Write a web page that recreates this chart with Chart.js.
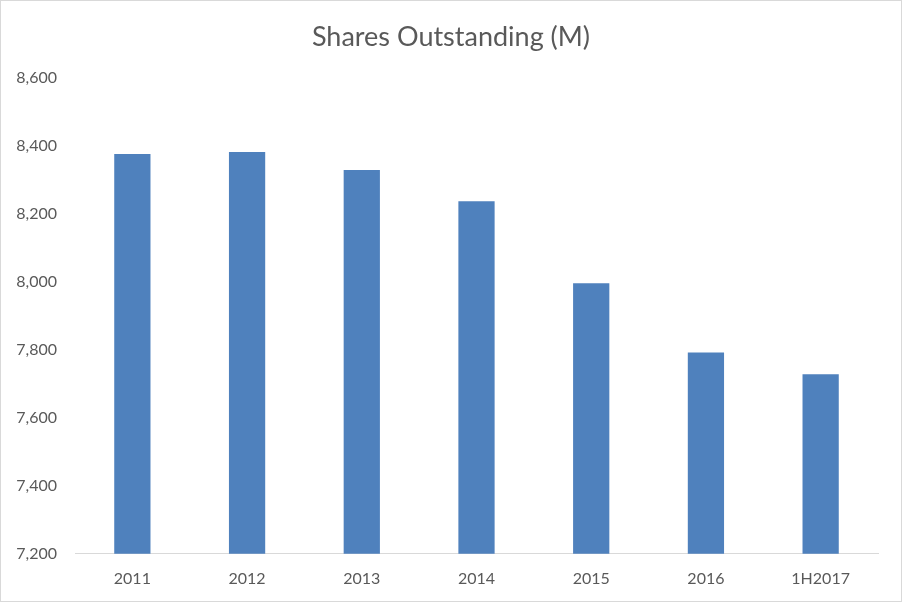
<!DOCTYPE html>
<html>
<head>
<meta charset="utf-8">
<script src="https://cdn.jsdelivr.net/npm/chart.js@4.4.1/dist/chart.umd.min.js"></script>
<style>
  html, body { margin: 0; padding: 0; background: #fff; }
  #wrap { width: 900px; height: 600px; border: 1px solid #d9d9d9; }
</style>
</head>
<body>
<div id="wrap"><canvas id="chart-slot" width="900" height="600"></canvas></div>
<script>
const categories = ['2011', '2012', '2013', '2014', '2015', '2016', '1H2017'];
const shares = [8376, 8382, 8329, 8237, 7996, 7792, 7728];
const yMin = 7200;
const yMax = 8600;
const yStep = 200;

const ctx = document.getElementById('chart-slot');
new Chart(ctx, {
  type: 'bar',
  data: {
    labels: categories,
    datasets: [{
      label: 'Shares Outstanding (M)',
      data: shares,
      backgroundColor: '#4f81bd',
      borderWidth: 0,
      categoryPercentage: 1,
      barPercentage: 0.316
    }]
  },
  options: {
    responsive: false,
    animation: false,
    layout: { padding: { left: 0, right: 0, top: 0, bottom: 6 } },
    plugins: {
      legend: { display: false },
      tooltip: { enabled: false },
      title: {
        display: true,
        text: 'Shares Outstanding (M)',
        color: '#595959',
        font: { family: 'Lato', size: 27, weight: 'normal' },
        padding: { top: 20, bottom: 24.4 }
      }
    },
    scales: {
      x: {
        grid: { display: false },
        border: { display: true, color: '#d9d9d9', width: 1 },
        ticks: { color: '#595959', font: { family: 'Lato', size: 16 }, padding: 7 }
      },
      y: {
        min: yMin,
        max: yMax,
        grid: { display: false },
        border: { display: false },
        ticks: {
          stepSize: yStep,
          color: '#595959',
          font: { family: 'Lato', size: 16 },
          padding: 10,
          callback: v => v.toLocaleString('en-US')
        },
        afterFit: scale => { scale.width = 74; }
      },
      // empty right-hand axis, only keeps the plot clear of the right edge
      yRight: {
        position: 'right',
        min: yMin,
        max: yMax,
        grid: { display: false },
        border: { display: false },
        ticks: { display: false },
        afterFit: scale => { scale.width = 23; }
      }
    }
  }
});
</script>
</body>
</html>
